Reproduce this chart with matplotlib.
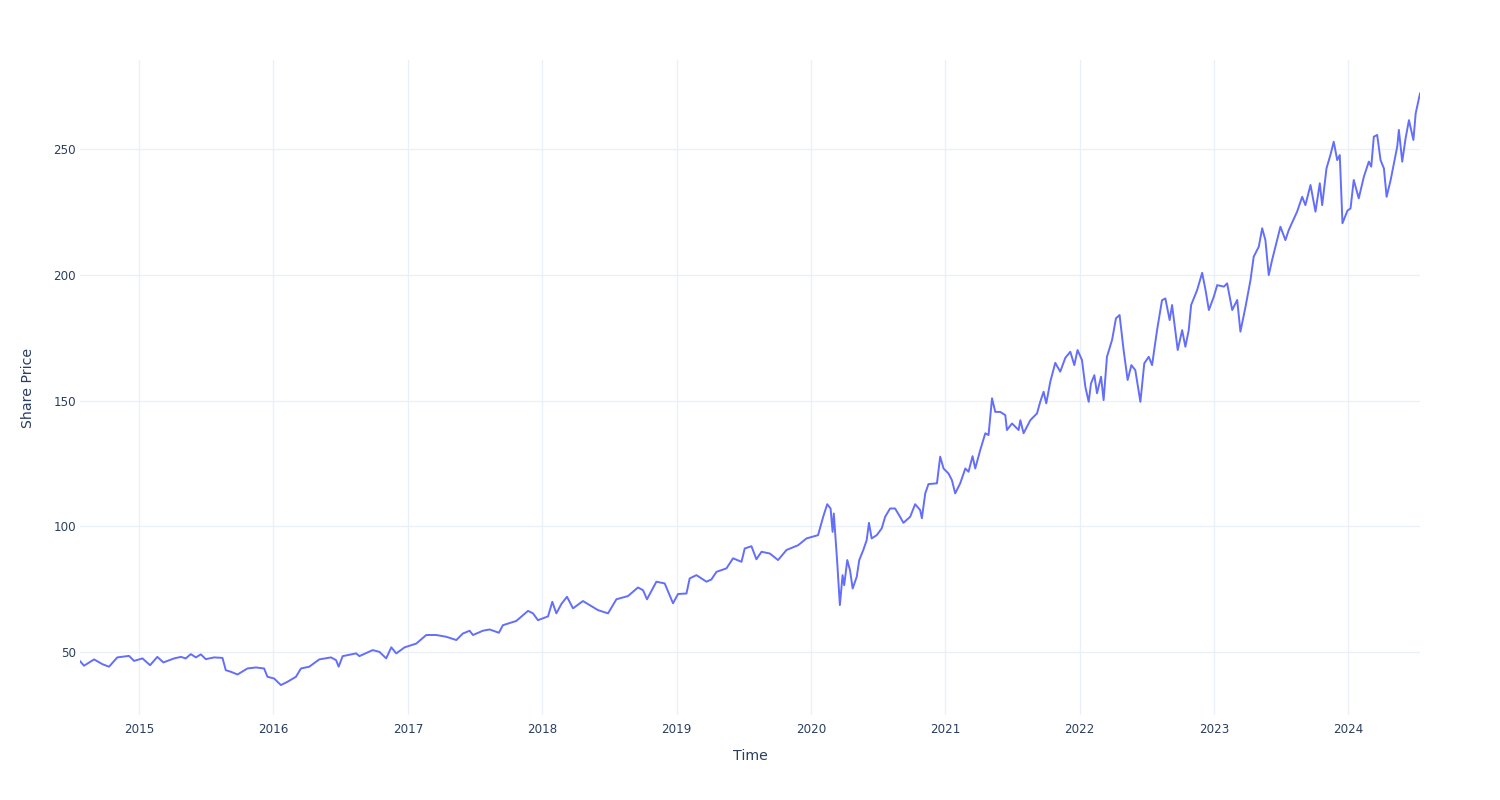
import matplotlib
matplotlib.use("Agg")
import matplotlib.pyplot as plt
import matplotlib.dates as mdates
import pandas as pd
import numpy as np

# Decimal years and share prices
years = [2014.560, 2014.590, 2014.665, 2014.727, 2014.776, 2014.838, 2014.925, 2014.963,
         2015.025, 2015.082, 2015.136, 2015.181, 2015.261, 2015.311, 2015.348, 2015.385,
         2015.423, 2015.460, 2015.497, 2015.559, 2015.621, 2015.646, 2015.683, 2015.733,
         2015.807, 2015.870, 2015.931, 2015.956, 2016.006, 2016.056, 2016.105, 2016.168,
         2016.205, 2016.267, 2016.341, 2016.428, 2016.466, 2016.485, 2016.515, 2016.615,
         2016.639, 2016.738, 2016.788, 2016.838, 2016.876, 2016.913, 2016.975, 2017.062,
         2017.136, 2017.211, 2017.285, 2017.360, 2017.409, 2017.459, 2017.484, 2017.558,
         2017.608, 2017.677, 2017.707, 2017.807, 2017.894, 2017.931, 2017.968, 2018.043,
         2018.075, 2018.105, 2018.142, 2018.184, 2018.229, 2018.303, 2018.353, 2018.415,
         2018.490, 2018.552, 2018.639, 2018.713, 2018.751, 2018.780, 2018.850, 2018.912,
         2018.974, 2019.011, 2019.074, 2019.098, 2019.148, 2019.223, 2019.260, 2019.297,
         2019.372, 2019.421, 2019.484, 2019.508, 2019.558, 2019.595, 2019.633, 2019.695,
         2019.756, 2019.819, 2019.906, 2019.968, 2020.054, 2020.092, 2020.122, 2020.147,
         2020.162, 2020.171, 2020.196, 2020.216, 2020.236, 2020.248, 2020.271, 2020.291,
         2020.311, 2020.341, 2020.360, 2020.390, 2020.415, 2020.432, 2020.452, 2020.490,
         2020.527, 2020.552, 2020.589, 2020.626, 2020.663, 2020.688, 2020.738, 2020.775,
         2020.812, 2020.825, 2020.850, 2020.874, 2020.937, 2020.961, 2020.986, 2021.023,
         2021.048, 2021.073, 2021.110, 2021.148, 2021.172, 2021.202, 2021.222, 2021.259,
         2021.297, 2021.321, 2021.347, 2021.371, 2021.408, 2021.446, 2021.458, 2021.496,
         2021.545, 2021.558, 2021.582, 2021.632, 2021.682, 2021.706, 2021.731, 2021.751,
         2021.781, 2021.818, 2021.855, 2021.893, 2021.930, 2021.960, 2021.984, 2022.017,
         2022.042, 2022.067, 2022.084, 2022.109, 2022.129, 2022.159, 2022.178, 2022.203,
         2022.241, 2022.270, 2022.297, 2022.327, 2022.357, 2022.385, 2022.414, 2022.452,
         2022.481, 2022.514, 2022.539, 2022.576, 2022.613, 2022.638, 2022.670, 2022.688,
         2022.730, 2022.763, 2022.787, 2022.812, 2022.830, 2022.875, 2022.912, 2022.937,
         2022.962, 2022.999, 2023.024, 2023.074, 2023.098, 2023.136, 2023.173, 2023.197,
         2023.235, 2023.272, 2023.296, 2023.334, 2023.359, 2023.383, 2023.408, 2023.433,
         2023.470, 2023.495, 2023.532, 2023.557, 2023.619, 2023.657, 2023.681, 2023.719,
         2023.756, 2023.788, 2023.806, 2023.838, 2023.867, 2023.892, 2023.918, 2023.937,
         2023.957, 2023.994, 2024.017, 2024.041, 2024.078, 2024.116, 2024.153, 2024.171,
         2024.190, 2024.215, 2024.240, 2024.265, 2024.285, 2024.315, 2024.364, 2024.376,
         2024.401, 2024.426, 2024.451, 2024.484, 2024.501, 2024.533]

prices = [46.4, 44.6, 47.1, 45.2, 44.2, 47.9, 48.5, 46.5,
          47.5, 44.8, 48.1, 45.9, 47.5, 48.1, 47.5, 49.2,
          47.9, 49.1, 47.2, 47.9, 47.7, 42.8, 42.2, 41.1,
          43.5, 43.9, 43.5, 40.2, 39.5, 36.9, 38.2, 40.2,
          43.5, 44.2, 47.1, 47.9, 46.8, 44.2, 48.4, 49.5,
          48.4, 50.8, 50.1, 47.5, 51.9, 49.5, 51.9, 53.4,
          56.8, 56.8, 56.1, 54.8, 57.4, 58.5, 56.8, 58.5,
          59.0, 57.7, 60.7, 62.4, 66.4, 65.4, 62.7, 64.2,
          70.0, 65.4, 69.1, 72.0, 67.4, 70.3, 68.7, 66.7,
          65.4, 71.0, 72.3, 75.7, 74.6, 71.0, 78.0, 77.3,
          69.4, 73.1, 73.3, 79.3, 80.6, 78.0, 78.9, 81.9,
          83.3, 87.3, 85.9, 91.2, 92.1, 86.9, 89.9, 89.2,
          86.6, 90.6, 92.5, 95.2, 96.5, 103.8, 108.8, 107.1,
          97.8, 105.1, 85.9, 68.7, 80.6, 76.6, 86.6, 82.6,
          75.3, 79.9, 86.6, 90.6, 94.5, 101.4, 95.2, 96.5,
          99.2, 103.8, 107.1, 107.1, 103.8, 101.4, 103.8, 108.8,
          106.5, 103.2, 113.1, 116.8, 117.1, 127.7, 123.0, 121.0,
          118.4, 113.1, 117.1, 123.0, 121.7, 127.9, 123.0, 130.3,
          137.0, 136.3, 150.9, 145.5, 145.5, 144.2, 138.3, 140.9,
          138.3, 142.2, 137.0, 142.2, 144.9, 149.5, 153.5, 148.9,
          157.5, 165.0, 161.5, 167.0, 169.4, 164.1, 170.1, 166.1,
          155.5, 149.5, 156.8, 160.1, 152.9, 159.5, 150.2, 167.4,
          174.1, 182.7, 184.0, 170.1, 158.2, 164.1, 162.1, 149.5,
          164.8, 167.4, 164.1, 178.0, 189.9, 190.6, 182.0, 188.0,
          170.1, 178.0, 171.4, 178.0, 188.0, 194.0, 200.8, 194.0,
          186.0, 191.3, 195.9, 195.3, 196.6, 186.0, 190.0, 177.4,
          187.3, 197.9, 207.2, 211.2, 218.5, 213.8, 199.9, 205.9,
          213.8, 219.1, 213.8, 217.8, 225.1, 231.0, 227.7, 235.7,
          225.1, 236.4, 227.7, 242.3, 247.6, 252.9, 245.6, 247.6,
          220.5, 225.5, 226.4, 237.7, 230.4, 239.0, 245.0, 243.0,
          254.9, 255.6, 245.6, 242.3, 231.0, 237.7, 251.0, 257.6,
          245.0, 254.3, 261.5, 253.6, 264.2, 272.1]

y_ticks = [50, 100, 150, 200, 250]
x_tick_years = list(range(2015, 2025))
x_label = "Time"
y_label = "Share Price"


def to_datetime(yr):
    y0 = int(np.floor(yr))
    start = pd.Timestamp(year=y0, month=1, day=1)
    end = pd.Timestamp(year=y0 + 1, month=1, day=1)
    return start + (end - start) * (yr - y0)


dates = [to_datetime(y) for y in years]

plt.rcParams['font.family'] = ['DejaVu Sans']
text_color = '#2a3f5f'
grid_color = '#EBF0F8'

fig = plt.figure(figsize=(15, 8), dpi=100)
ax = fig.add_axes([80 / 1500, 1 - 715 / 800, 1340 / 1500, 655 / 800])

ax.plot(dates, prices, color='#636efa', linewidth=1.4, solid_joinstyle='round')

ax.set_xlim(dates[0], dates[-1])
ax.set_ylim(25, 285.4)

ax.set_yticks(y_ticks)
ax.set_xticks([pd.Timestamp(year=y, month=1, day=1) for y in x_tick_years])
ax.xaxis.set_major_formatter(mdates.DateFormatter('%Y'))

ax.grid(True, color=grid_color, linewidth=1)
ax.set_axisbelow(True)
for s in ax.spines.values():
    s.set_visible(False)

ax.tick_params(axis='both', length=0, labelsize=8.6, colors=text_color)
ax.tick_params(axis='x', pad=6)
ax.tick_params(axis='y', pad=3)

ax.set_xlabel(x_label, fontsize=10.2, color=text_color, labelpad=9)
ax.set_ylabel(y_label, fontsize=10.2, color=text_color, labelpad=13)

fig.savefig('out.png', dpi=100, facecolor='white')
